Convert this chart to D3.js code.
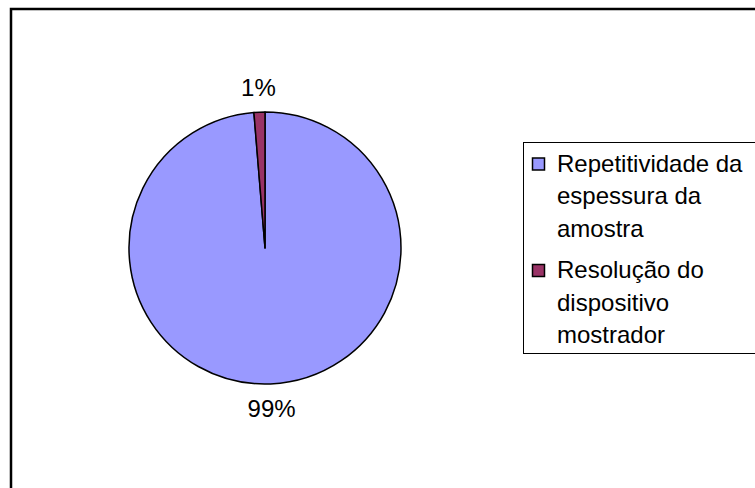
<!DOCTYPE html>
<html>
<head>
<meta charset="utf-8">
<script src="https://cdn.jsdelivr.net/npm/d3@7"></script>
<style>
  html, body { margin: 0; padding: 0; background: #fff; }
  svg { display: block; }
  text { font-family: "Liberation Sans", Arial, sans-serif; fill: #000; }
</style>
</head>
<body>
<svg id="chart" width="755" height="488"></svg>
<script>
// Data
const categories = ["Repetitividade da espessura da amostra", "Resolução do dispositivo mostrador"];
const legendLines = [["Repetitividade da", "espessura da", "amostra"], ["Resolução do", "dispositivo", "mostrador"]];
const values = [98.7, 1.3];
const labels = ["99%", "1%"];
const colors = ["#9999FF", "#993366"];

const svg = d3.select("#chart");

// Outer chart border
svg.append("rect")
  .attr("x", 11).attr("y", 9)
  .attr("width", 760).attr("height", 500)
  .attr("fill", "#fff")
  .attr("stroke", "#000").attr("stroke-width", 2.5);

const cx = 265, cy = 248, r = 136;
const g = svg.append("g").attr("transform", `translate(${cx},${cy})`);

const data = categories.map((c, i) => ({ name: c, value: values[i], label: labels[i], color: colors[i] }));
const pie = d3.pie().value(d => d.value).sort(null);
const arcs = pie(data);
const arc = d3.arc().innerRadius(0).outerRadius(r);
const labelArc = d3.arc().innerRadius(161).outerRadius(161);

g.selectAll("path.slice")
  .data(arcs)
  .join("path")
  .attr("class", "slice")
  .attr("d", arc)
  .attr("fill", d => d.data.color)
  .attr("stroke", "#000")
  .attr("stroke-width", 1.5)
  .attr("stroke-linejoin", "round");

g.selectAll("text.lbl")
  .data(arcs)
  .join("text")
  .attr("class", "lbl")
  .attr("transform", d => `translate(${labelArc.centroid(d)})`)
  .attr("text-anchor", "middle")
  .attr("dy", "0.35em")
  .attr("font-size", 24)
  .text(d => d.data.label);

// Legend
const legend = svg.append("g");
legend.append("rect")
  .attr("x", 523.5).attr("y", 142.5)
  .attr("width", 260).attr("height", 211)
  .attr("fill", "#fff")
  .attr("stroke", "#000").attr("stroke-width", 1);

const lineH = 32.5;
const groupTop = [171.5, 278];
data.forEach((d, i) => {
  const base = groupTop[i];
  legend.append("rect")
    .attr("x", 532.5).attr("y", base - 13.5)
    .attr("width", 12).attr("height", 12)
    .attr("fill", d.color)
    .attr("stroke", "#000").attr("stroke-width", 1.5);
  const t = legend.append("text")
    .attr("x", 557).attr("y", base)
    .attr("font-size", 24);
  legendLines[i].forEach((ln, j) => {
    t.append("tspan").attr("x", 557).attr("y", base + j * lineH).text(ln);
  });
});
</script>
</body>
</html>
